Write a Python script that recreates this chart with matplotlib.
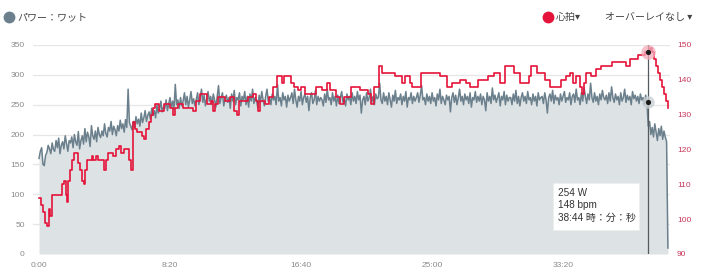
"""Power / heart-rate ride chart with a hover tooltip at 38:44."""

import matplotlib

matplotlib.use("Agg")
import matplotlib.pyplot as plt
from matplotlib.lines import Line2D
from matplotlib.patches import Rectangle
from matplotlib.ticker import FixedLocator, FuncFormatter

# power in watts, one sample every 5 s from 0:00 to 40:00 (one row per minute)
POWER_STEP_S = 5
power_w = [
    160, 172, 178, 150, 148, 165, 170, 182, 176, 168, 186, 175,
    172, 190, 178, 194, 168, 182, 188, 176, 198, 185, 172, 190,
    186, 196, 178, 200, 188, 182, 205, 176, 190, 198, 184, 210,
    188, 204, 196, 180, 215, 198, 192, 206, 188, 212, 200, 195,
    206, 198, 218, 202, 196, 212, 206, 222, 200, 214, 208, 198,
    215, 206, 224, 210, 218, 204, 225, 212, 276, 220, 214, 208,
    222, 212, 230, 218, 226, 214, 236, 220, 228, 240, 222, 232,
    238, 226, 244, 232, 240, 228, 250, 236, 242, 256, 238, 246,
    244, 258, 240, 252, 262, 246, 256, 242, 284, 250, 258, 244,
    262, 248, 256, 270, 250, 264, 246, 258, 272, 252, 260, 248,
    258, 270, 250, 262, 276, 254, 266, 248, 260, 272, 256, 264,
    250, 268, 258, 246, 264, 282, 252, 262, 270, 248, 260, 266,
    254, 262, 244, 268, 256, 274, 250, 262, 258, 270, 248, 264,
    258, 272, 250, 264, 246, 268, 256, 276, 252, 262, 258, 244,
    266, 254, 272, 258, 248, 264, 276, 256, 262, 250, 268, 258,
    264, 250, 284, 256, 262, 248, 270, 258, 264, 246, 266, 256,
    262, 270, 252, 276, 258, 246, 264, 256, 272, 250, 262, 268,
    254, 264, 240, 262, 270, 252, 258, 274, 250, 264, 256, 262,
    258, 248, 268, 254, 276, 258, 262, 250, 270, 256, 264, 248,
    266, 252, 262, 272, 254, 260, 248, 268, 258, 264, 250, 270,
    256, 264, 252, 272, 258, 266, 236, 258, 264, 250, 270, 256,
    262, 276, 254, 264, 250, 268, 260, 262, 286, 258, 252, 270,
    256, 264, 250, 270, 258, 246, 266, 256, 274, 252, 262, 258,
    268, 250, 264, 256, 272, 246, 262, 258, 270, 252, 264, 256,
    262, 270, 254, 266, 282, 258, 262, 250, 268, 256, 264, 252,
    270, 256, 262, 248, 268, 258, 276, 252, 264, 258, 250, 266,
    258, 264, 238, 262, 270, 254, 266, 250, 262, 276, 256, 264,
    250, 268, 258, 264, 252, 270, 246, 262, 258, 272, 254, 264,
    256, 268, 250, 264, 258, 240, 270, 256, 264, 252, 278, 258,
    266, 254, 262, 270, 248, 264, 258, 272, 250, 266, 256, 262,
    262, 250, 268, 256, 274, 252, 264, 248, 262, 270, 256, 264,
    252, 272, 258, 262, 250, 268, 256, 264, 248, 270, 258, 262,
    264, 252, 270, 258, 236, 262, 268, 256, 274, 252, 266, 258,
    262, 250, 268, 256, 264, 272, 254, 262, 258, 270, 250, 264,
    268, 254, 276, 258, 262, 250, 270, 256, 278, 264, 252, 268,
    258, 286, 262, 254, 270, 256, 264, 250, 268, 258, 274, 262,
    258, 266, 252, 270, 256, 280, 262, 254, 268, 258, 264, 250,
    270, 256, 262, 276, 254, 266, 258, 264, 250, 272, 260, 266,
    256, 264, 252, 268, 258, 262, 250, 266, 254, 214, 222, 200,
    212, 196, 218, 204, 190, 210, 198, 214, 192, 206, 196, 188,
    10,
]

# heart rate as step changes: (seconds, bpm)
hr_time_s = [
    0, 8, 15, 23, 31, 38, 42, 50, 88, 95, 103, 107, 111, 118, 126, 134,
    149, 156, 164, 172, 176, 183, 202, 206, 218, 225, 240, 248, 256, 263,
    282, 294, 305, 313, 324, 344, 351, 359, 366, 374, 393, 401, 408, 420,
    427, 435, 443, 458, 477, 500, 511, 519, 531, 550, 588, 599, 615, 641,
    656, 664, 672, 683, 710, 729, 744, 756, 763, 798, 817, 828, 836, 844,
    863, 878, 893, 908, 928, 935, 962, 973, 989, 1000, 1015, 1057, 1080,
    1099, 1111, 1134, 1149, 1164, 1191, 1225, 1256, 1267, 1279, 1298,
    1309, 1359, 1386, 1397, 1416, 1424, 1458, 1531, 1558, 1577, 1607,
    1630, 1645, 1676, 1714, 1737, 1760, 1779, 1813, 1836, 1870, 1878,
    1901, 1931, 1950, 1992, 2012, 2027, 2038, 2050, 2065, 2073, 2080,
    2088, 2107, 2126, 2145, 2187, 2241, 2256, 2286, 2313, 2324, 2332,
    2340, 2347, 2355, 2363, 2370, 2378, 2386, 2393, 2400,
]
hr_bpm = [
    106, 104, 102, 99, 98, 103, 101, 107, 110, 111, 107, 105, 111, 114,
    117, 119, 116, 114, 111, 110, 114, 117, 118, 117, 118, 117, 117, 114,
    117, 119, 118, 120, 121, 119, 120, 117, 114, 128, 126, 125, 124, 123,
    126, 128, 130, 132, 133, 131, 133, 132, 130, 132, 133, 132, 131, 134,
    136, 133, 134, 131, 133, 135, 134, 135, 131, 130, 134, 135, 136, 134,
    131, 134, 133, 135, 138, 141, 139, 141, 139, 138, 137, 138, 136, 138,
    137, 139, 137, 135, 133, 135, 138, 137, 136, 133, 138, 144, 142, 141,
    139, 141, 139, 138, 142, 141, 138, 139, 140, 139, 138, 140, 141, 142,
    139, 144, 142, 139, 141, 144, 142, 140, 138, 140, 141, 142, 139, 141,
    138, 136, 139, 142, 141, 143, 144, 145, 144, 146, 147, 148, 148, 149,
    148, 146, 144, 142, 140, 138, 136, 134, 132,
]

x_ticks_s = [0, 500, 1000, 1500, 2000]
power_ticks = [0, 50, 100, 150, 200, 250, 300, 350]
hr_ticks = [90, 100, 110, 120, 130, 140, 150]

hover_s = 2324
hover_power = 254
hover_hr = 148
tooltip_lines = ["254 W", "148 bpm", "38:44 時：分：秒"]

legend_power = "パワー：ワット"
legend_hr = "心拍▾"
overlay_label = "オーバーレイなし ▾"

POWER_LINE = "#6b808c"
POWER_FILL = "#dde2e5"
HR_RED = "#e5133a"
HR_TICK = "#c8385a"
GRID = "#e6e6e6"
TICK_GREY = "#8a8a8a"
JP = ["Noto Sans CJK JP", "DejaVu Sans"]
LATIN = ["Liberation Sans", "Noto Sans CJK JP"]


def mmss(value, _pos=None):
    value = int(round(value))
    return f"{value // 60}:{value % 60:02d}"


def main():
    power_t = [i * POWER_STEP_S for i in range(len(power_w))]

    fig = plt.figure(figsize=(7.1, 2.76), dpi=100)
    ax = fig.add_axes([33 / 710, 22 / 276, 637 / 710, 209 / 276])
    ax2 = ax.twinx()

    ax.set_xlim(-23, 2408)
    ax.set_ylim(0, 350)
    ax2.set_ylim(90, 150)

    for level in power_ticks[1:]:
        ax.axhline(level, color=GRID, lw=0.9, zorder=0)

    ax.fill_between(power_t, power_w, 0, color=POWER_FILL, lw=0, zorder=1)
    ax.plot(power_t, power_w, color=POWER_LINE, lw=1.1, zorder=2)
    ax2.step(hr_time_s, hr_bpm, where="post", color=HR_RED, lw=1.2, zorder=3)

    # hover marker
    ax.axvline(hover_s, color="#555a5e", lw=0.9, zorder=4)
    ax.scatter([hover_s], [hover_power], s=80, color="#c9d0d4", alpha=0.8, zorder=4, lw=0)
    ax.scatter([hover_s], [hover_power], s=14, color="#1a1a1a", zorder=5, lw=0)
    ax2.scatter([hover_s], [hover_hr], s=110, color="#f3aab8", alpha=0.75, zorder=4, lw=0)
    ax2.scatter([hover_s], [hover_hr], s=14, color="#1a1a1a", zorder=5, lw=0)

    for spine in list(ax.spines.values()) + list(ax2.spines.values()):
        spine.set_visible(False)

    ax.xaxis.set_major_locator(FixedLocator(x_ticks_s))
    ax.xaxis.set_major_formatter(FuncFormatter(mmss))
    ax.set_yticks(power_ticks)
    ax2.set_yticks(hr_ticks)
    ax.tick_params(axis="x", length=0, pad=6, labelsize=6, labelcolor=TICK_GREY)
    ax.tick_params(axis="y", length=0, pad=6, labelsize=6, labelcolor=TICK_GREY)
    ax2.tick_params(axis="y", length=0, pad=5, labelsize=6, labelcolor=HR_TICK)
    for label in ax.get_xticklabels() + ax.get_yticklabels() + ax2.get_yticklabels():
        label.set_family(LATIN)

    # tooltip box (figure pixels)
    fig.add_artist(Rectangle((553 / 710, 1 - 230 / 276), 86 / 710, 47 / 276,
                             transform=fig.transFigure, facecolor="white",
                             edgecolor="#eeeeee", lw=0.6, zorder=10))
    for i, line in enumerate(tooltip_lines):
        fig.text(558 / 710, 1 - (193 + 12.5 * i) / 276, line, fontsize=7.2,
                 color="#333333", family=LATIN, va="center", zorder=11)

    # legend row
    fig.add_artist(Line2D([9 / 710], [1 - 17 / 276], transform=fig.transFigure,
                          marker="o", markersize=7.5, color=POWER_LINE, lw=0))
    fig.text(17 / 710, 1 - 17 / 276, legend_power, fontsize=7.2, color="#444444",
             family=JP, va="center")
    fig.add_artist(Line2D([548 / 710], [1 - 17 / 276], transform=fig.transFigure,
                          marker="o", markersize=7.5, color=HR_RED, lw=0))
    fig.text(556 / 710, 1 - 17 / 276, legend_hr, fontsize=7.2, color="#444444",
             family=JP, va="center")
    fig.text(605 / 710, 1 - 17 / 276, overlay_label, fontsize=7.2, color="#444444",
             family=JP, va="center")

    fig.savefig("out.png", dpi=100)
    plt.close(fig)


if __name__ == "__main__":
    main()
